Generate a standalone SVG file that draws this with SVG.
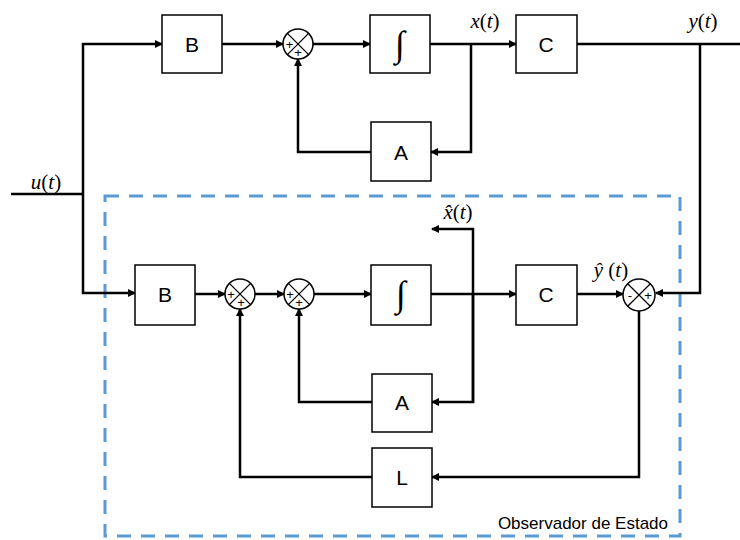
<svg xmlns="http://www.w3.org/2000/svg" width="740" height="540" viewBox="0 0 740 540">
<style>
.box{fill:#fff;stroke:#000;stroke-width:1.5}
.sum{fill:#fff;stroke:#000;stroke-width:1.5}
.x{stroke:#000;stroke-width:1.3}
.w{fill:none;stroke:#000;stroke-width:2.5}
.lbl{font-family:"Liberation Sans",Arial,sans-serif;font-size:21px;text-anchor:middle}
.sg{font-family:"Liberation Sans",Arial,sans-serif;font-size:13px;text-anchor:middle}
.m{font-family:"Liberation Serif","DejaVu Serif",serif;font-size:21px;text-anchor:middle}
.i{font-style:italic}
.int{font-family:"Liberation Serif","DejaVu Serif",serif;font-size:36px;text-anchor:middle}
</style>
<defs>
<marker id="ar" markerWidth="8" markerHeight="8" refX="7" refY="4" orient="auto" markerUnits="userSpaceOnUse">
<path d="M0,0 L8,4 L0,8 Z" fill="#000"/>
</marker>
</defs>
<rect width="740" height="540" fill="#fff"/>
<rect id="observer" x="105" y="196" width="575" height="340" fill="none" stroke="#5B9BD5" stroke-width="3" stroke-dasharray="14,10"/>
<g id="connectors">
<path class="w" d="M11,194 H83"/>
<path class="w" d="M83,194 V44 H162" marker-end="url(#ar)"/>
<path class="w" d="M83,194 V293 H135" marker-end="url(#ar)"/>
<path class="w" d="M222,44 H283" marker-end="url(#ar)"/>
<path class="w" d="M313,44 H370" marker-end="url(#ar)"/>
<path class="w" d="M430,44 H516" marker-end="url(#ar)"/>
<path class="w" d="M471,44 V152 H431" marker-end="url(#ar)"/>
<path class="w" d="M371,152 H298 V59" marker-end="url(#ar)"/>
<path class="w" d="M577,44 H740"/>
<path class="w" d="M700,44 V293 H656" marker-end="url(#ar)"/>
<path class="w" d="M195,294 H225" marker-end="url(#ar)"/>
<path class="w" d="M255,294 H284" marker-end="url(#ar)"/>
<path class="w" d="M314,294 H371" marker-end="url(#ar)"/>
<path class="w" d="M431,294 H516" marker-end="url(#ar)"/>
<path class="w" d="M473,403 V229 H432" marker-end="url(#ar)"/>
<path class="w" d="M473,294 V402 H432" marker-end="url(#ar)"/>
<path class="w" d="M372,402 H299 V309" marker-end="url(#ar)"/>
<path class="w" d="M577,294 H623" marker-end="url(#ar)"/>
<path class="w" d="M639,311 V477 H432" marker-end="url(#ar)"/>
<path class="w" d="M372,477 H240 V309" marker-end="url(#ar)"/>
</g>
<g id="B1"><rect class="box" x="162" y="15" width="60" height="58"/><text class="lbl" x="192" y="52">B</text></g>
<g id="S1"><circle class="sum" cx="298" cy="44" r="15"/><path class="x" d="M287.4,33.4 L308.6,54.6 M308.6,33.4 L287.4,54.6"/><text class="sg" x="289.5" y="48.5">+</text><text class="sg" x="298" y="57">+</text></g>
<g id="I1"><rect class="box" x="370" y="15" width="60" height="58"/><text class="int" x="400" y="56">∫</text></g>
<g id="C1"><rect class="box" x="516" y="15" width="61" height="58"/><text class="lbl" x="546" y="52">C</text></g>
<g id="A1"><rect class="box" x="371" y="122" width="60" height="59"/><text class="lbl" x="401" y="160">A</text></g>
<g id="B2"><rect class="box" x="135" y="265" width="60" height="60"/><text class="lbl" x="165" y="302">B</text></g>
<g id="S2"><circle class="sum" cx="240" cy="294" r="15"/><path class="x" d="M229.4,283.4 L250.6,304.6 M250.6,283.4 L229.4,304.6"/><text class="sg" x="231" y="298.5">+</text><text class="sg" x="241" y="307">+</text></g>
<g id="S3"><circle class="sum" cx="299" cy="294" r="15"/><path class="x" d="M288.4,283.4 L309.6,304.6 M309.6,283.4 L288.4,304.6"/><text class="sg" x="290" y="298.5">+</text><text class="sg" x="299" y="307">+</text></g>
<g id="I2"><rect class="box" x="371" y="265" width="60" height="60"/><text class="int" x="401" y="306">∫</text></g>
<g id="C2"><rect class="box" x="516" y="265" width="61" height="60"/><text class="lbl" x="546" y="302">C</text></g>
<g id="S4"><circle class="sum" cx="639" cy="295" r="16"/><path class="x" d="M627.7,283.7 L650.3,306.3 M650.3,283.7 L627.7,306.3"/><text class="sg" x="630" y="299.5">-</text><text class="sg" x="648" y="299.5">+</text></g>
<g id="A2"><rect class="box" x="372" y="374" width="60" height="58"/><text class="lbl" x="402" y="410">A</text></g>
<g id="L"><rect class="box" x="372" y="448" width="60" height="59"/><text class="lbl" x="402" y="485">L</text></g>
<text class="m" x="46" y="189"><tspan class="i">u</tspan>(<tspan class="i">t</tspan>)</text>
<text class="m" x="485" y="28"><tspan class="i">x</tspan>(<tspan class="i">t</tspan>)</text>
<text class="m" x="703" y="28"><tspan class="i">y</tspan>(<tspan class="i">t</tspan>)</text>
<text class="m" x="458" y="219"><tspan class="i">x̂</tspan>(<tspan class="i">t</tspan>)</text>
<text class="m" x="611" y="277"><tspan class="i">ŷ</tspan> (<tspan class="i">t</tspan>)</text>
<text x="668" y="529" font-family="Liberation Sans,Arial,sans-serif" font-size="17" text-anchor="end">Observador de Estado</text>
</svg>
